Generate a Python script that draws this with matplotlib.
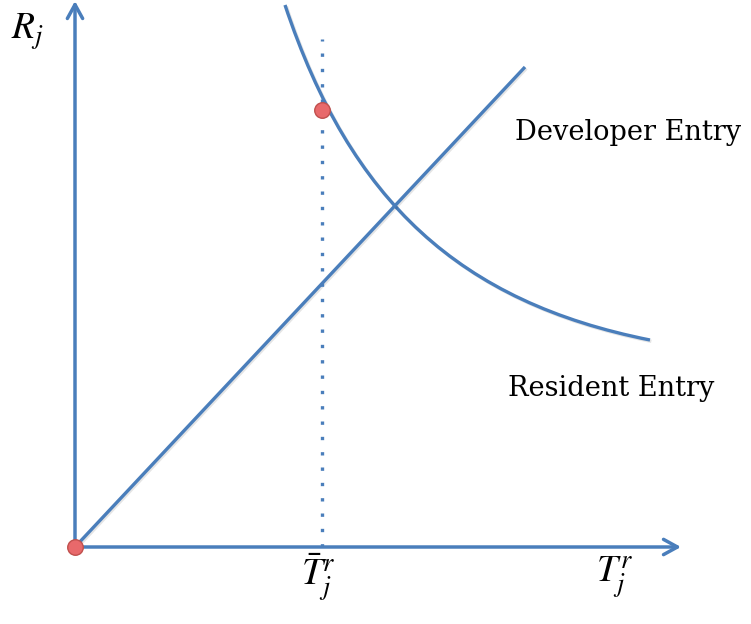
import matplotlib.pyplot as plt
from matplotlib.path import Path
from matplotlib.patches import PathPatch
import matplotlib.patheffects as pe

plt.rcParams['mathtext.fontset'] = 'stix'

# schematic values (pixel-like units, origin at the axes corner)
origin = (0, 0)
x_axis_end = (606, 0)
y_axis_end = (0, 546)
resident_x = [0, 450]
resident_y = [0, 480]
developer_ctrl_x = [210, 275.5, 385, 575]      # bezier control points
developer_ctrl_y = [542, 345.4, 244.9, 207]
t_bar = 247
t_bar_top = 508
dev_point = (247, 437)

blue = '#4a7ebb'
red_face = '#e8696b'
red_edge = '#c0504d'
shadow = [pe.SimpleLineShadow(offset=(1.0, -1.0), alpha=0.1), pe.Normal()]

fig = plt.figure(figsize=(7.51, 6.24), dpi=100)
ax = fig.add_axes([0, 0, 1, 1])
ax.set_xlim(-75, 676)
ax.set_ylim(-77, 547)
ax.axis('off')

# axes arrows
arrow = dict(arrowstyle='->,head_length=1.0,head_width=0.55', color=blue,
             lw=2.5, shrinkA=0, shrinkB=0)
ax.annotate('', xy=x_axis_end, xytext=origin, arrowprops=arrow)
ax.annotate('', xy=y_axis_end, xytext=origin, arrowprops=arrow)

# resident entry line
ax.plot(resident_x, resident_y, color=blue, lw=2.4, solid_capstyle='butt',
        path_effects=shadow)

# developer entry curve
verts = list(zip(developer_ctrl_x, developer_ctrl_y))
path = Path(verts, [Path.MOVETO, Path.CURVE4, Path.CURVE4, Path.CURVE4])
ax.add_patch(PathPatch(path, fill=False, edgecolor=blue, lw=2.4, capstyle='butt',
                       path_effects=shadow))

# dotted threshold line
ax.plot([t_bar, t_bar], [0, t_bar_top], color=blue, lw=2.4,
        linestyle=(0, (1, 3.6)), dash_capstyle='butt')

# points
ax.scatter([origin[0], dev_point[0]], [origin[1], dev_point[1]], s=125,
           color=red_face, edgecolors=red_edge, linewidths=1, zorder=5)

# labels
ax.text(-48, 515, r'$R_j$', fontsize=27, ha='center', va='center')
ax.text(t_bar - 4, -31, r'$\bar{T}_j^r$', fontsize=27, ha='center', va='center')
ax.text(540, -31, r'$T_j^r$', fontsize=27, ha='center', va='center')
ax.text(440, 415, 'Developer Entry', fontsize=19.6, family='DejaVu Serif',
        ha='left', va='center')
ax.text(433, 159, 'Resident Entry', fontsize=19.6, family='DejaVu Serif',
        ha='left', va='center')

fig.savefig('out.png', dpi=100)
